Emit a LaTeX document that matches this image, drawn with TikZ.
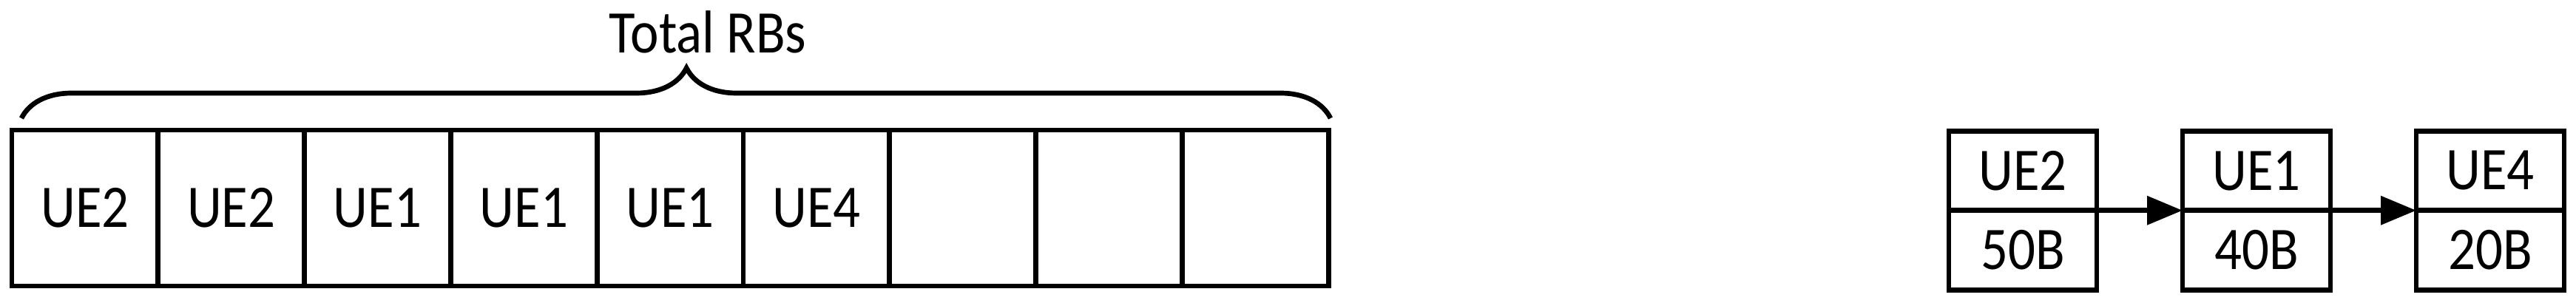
\documentclass[tikz,border=0pt]{standalone}
\usepackage{fontspec}
\setmainfont{Carlito}[FakeStretch=0.89]
\usetikzlibrary{positioning,arrows.meta,decorations.pathreplacing}
\begin{document}
\begin{tikzpicture}[
  every node/.style = {draw, line width=1.9pt, outer sep=0pt,
    font=\fontsize{23.3}{28}\selectfont},
  rb/.style = {minimum width=1.978cm, minimum height=2.11cm},
  half/.style = {minimum width=2cm, minimum height=1.075cm}]
  \useasboundingbox (0,0) rectangle (34.83,4.10);
  % resource blocks
  \node[rb] (c1) at (1.149,1.285) {UE2};
  \node[rb, right=0pt of c1] (c2) {UE2};
  \node[rb, right=0pt of c2] (c3) {UE1};
  \node[rb, right=0pt of c3] (c4) {UE1};
  \node[rb, right=0pt of c4] (c5) {UE1};
  \node[rb, right=0pt of c5] (c6) {UE4};
  \node[rb, right=0pt of c6] (c7) {};
  \node[rb, right=0pt of c7] (c8) {};
  \node[rb, right=0pt of c8] (c9) {};
  % brace over the RBs
  \coordinate (bl) at (0.29,2.50);
  \coordinate (br) at (17.99,2.50);
  \draw [line width=1.9pt, decorate,
    decoration={brace, amplitude=0.68cm, aspect=0.508}] (bl) -- (br);
  \node[draw=none, anchor=base] (total) at (9.57,3.38) {Total RBs};
  % queue of UEs
  \node[half] (u2) at (27.35,1.79) {UE2};
  \node[half, below=0pt of u2] (b50) {50B};
  \node[half, right=1.16cm of u2] (u1) {UE1};
  \node[half, below=0pt of u1] (b40) {40B};
  \node[half, right=1.16cm of u1] (u4) {UE4};
  \node[half, below=0pt of u4] (b20) {20B};
\draw [-{Triangle[length=0.48cm,width=0.38cm]}, line width=1.9pt] (u2.south east) -- (u1.south west);
\draw [-{Triangle[length=0.48cm,width=0.38cm]}, line width=1.9pt] (u1.south east) -- (u4.south west);
\end{tikzpicture}
\end{document}
